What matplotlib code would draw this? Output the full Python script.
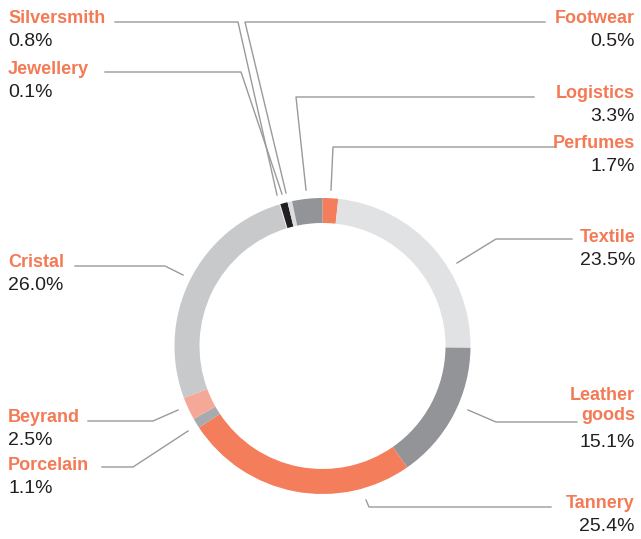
import matplotlib
matplotlib.use("Agg")
import matplotlib.pyplot as plt

# sectors, clockwise from the top
names = ["Perfumes", "Textile", "Leather\ngoods", "Tannery", "Porcelain", "Beyrand",
         "Cristal", "Jewellery", "Silversmith", "Footwear", "Logistics"]
shares = [1.7, 23.5, 15.1, 25.4, 1.1, 2.5, 26.0, 0.1, 0.8, 0.5, 3.3]
colors = ["#F47D5C", "#E1E2E4", "#939497", "#F47D5C", "#A9AAAD", "#F6A898",
          "#C8C9CB", "#EDEDED", "#231F20", "#DCDDDF", "#939497"]

# label placement (pixel coords): x, baseline of (last line of) name, side
label_pos = {
    "Silversmith": (8, 23, "left"),
    "Jewellery": (8, 74, "left"),
    "Cristal": (8, 267, "left"),
    "Beyrand": (8, 422, "left"),
    "Porcelain": (8, 470, "left"),
    "Footwear": (635, 23, "right"),
    "Logistics": (635, 98, "right"),
    "Perfumes": (635, 148, "right"),
    "Textile": (635, 242, "right"),
    "Leather\ngoods": (635, 420, "right"),
    "Tannery": (635, 508, "right"),
}

# leader lines (pixel coords)
leaders = [
    [(115, 22), (238, 22), (277, 195)],
    [(105, 72), (241, 72), (282, 194)],
    [(545, 22), (245, 22), (286, 193)],
    [(534, 97), (296, 97), (306, 190)],
    [(555, 147), (333, 147), (331, 190)],
    [(572, 239), (496, 239), (457, 263)],
    [(75, 266), (165, 266), (183, 275)],
    [(577, 422), (496, 422), (468, 410)],
    [(551, 507), (369, 507), (366, 500)],
    [(88, 421), (153, 421), (178, 410)],
    [(102, 467), (133, 467), (188, 431)],
]

orange = "#F47A55"
dark = "#231F20"

fig = plt.figure(figsize=(6.41, 5.39), dpi=100)
ax = fig.add_axes([0, 0, 1, 1])

ax.pie(shares, colors=colors, startangle=-90, counterclock=True,
       center=(322.5, 346), radius=148,
       wedgeprops=dict(width=25, linewidth=0))

ax.set_xlim(0, 641)
ax.set_ylim(539, 0)
ax.set_aspect("equal")
ax.axis("off")

for pts in leaders:
    xs = [p[0] for p in pts]
    ys = [p[1] for p in pts]
    ax.plot(xs, ys, color="#9A9A9A", linewidth=1)

for name, share in zip(names, shares):
    x, y, side = label_pos[name]
    nlines = name.count("\n")
    ax.text(x, y, name, ha=side, va="baseline", fontsize=13,
            fontweight="bold", color=orange, family="Liberation Sans",
            linespacing=1.2, multialignment=side)
    ax.text(x, y + 23 + 4 * nlines, f"{share:.1f}%", ha=side, va="baseline",
            fontsize=14, color=dark, family="Liberation Sans")

fig.savefig("out.png", dpi=100)
